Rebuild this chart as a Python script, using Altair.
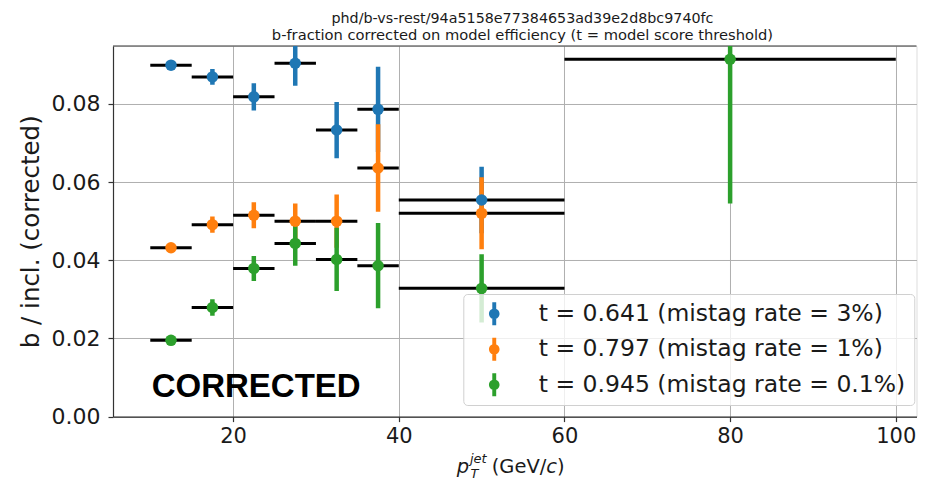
import altair as alt
import pandas as pd

# ---- data ----
centers = [12.5, 17.5, 22.5, 27.5, 32.5, 37.5, 50, 80]
bin_lo = [10, 15, 20, 25, 30, 35, 40, 60]
bin_hi = [15, 20, 25, 30, 35, 40, 60, 100]

labels = [
    "t = 0.641 (mistag rate = 3%)",
    "t = 0.797 (mistag rate = 1%)",
    "t = 0.945 (mistag rate = 0.1%)",
]
colors = ["#1f77b4", "#ff7f0e", "#2ca02c"]

blue_val = [0.0899, 0.0869, 0.0818, 0.0904, 0.0733, 0.0786, 0.0554, None]
blue_err = [0.0007, 0.0020, 0.0035, 0.0058, 0.0072, 0.0109, 0.0085, None]
orange_val = [0.0432, 0.0491, 0.0515, 0.0500, 0.0500, 0.0636, 0.0520, None]
orange_err = [0.0008, 0.0021, 0.0033, 0.0045, 0.0068, 0.0112, 0.0092, None]
green_val = [0.0195, 0.0279, 0.0379, 0.0443, 0.0402, 0.0386, 0.0328, 0.0914]
green_err = [0.0007, 0.0021, 0.0032, 0.0057, 0.0081, 0.0109, 0.0087, 0.0369]

title_line1 = "phd/b-vs-rest/94a5158e77384653ad39e2d8bc9740fc"
title_line2 = "b-fraction corrected on model efficiency (t = model score threshold)"
x_ticks = [20, 40, 60, 80, 100]
y_ticks = [0.0, 0.02, 0.04, 0.06, 0.08]

rows = []
for lab, vals, errs in zip(labels, [blue_val, orange_val, green_val],
                           [blue_err, orange_err, green_err]):
    for c, lo, hi, v, e in zip(centers, bin_lo, bin_hi, vals, errs):
        if v is None:
            continue
        rows.append(dict(series=lab, x=c, lo=lo, hi=hi, y=v,
                         ylo=v - e, yhi=v + e))
df = pd.DataFrame(rows)

xscale = alt.Scale(domain=[5.5, 102.5], nice=False, zero=False)
yscale = alt.Scale(domain=[0, 0.0948], nice=False, zero=False)
cscale = alt.Scale(domain=labels, range=colors)

axis_common = dict(
    gridColor="#b0b0b0", gridWidth=1, domainColor="#333333", domainWidth=1.2,
    tickColor="#333333", tickWidth=1.2, tickSize=5, labelColor="#1a1a1a",
)

xenc = alt.X("x:Q", scale=xscale, title=None,
             axis=alt.Axis(values=x_ticks, labelFont="DejaVu Sans",
                           labelFontSize=21, labelPadding=4, **axis_common))
yenc = alt.Y("y:Q", scale=yscale,
             axis=alt.Axis(values=y_ticks, format=".2f", labelFont="DejaVu Sans",
                           labelFontSize=22, labelPadding=8,
                           title="b / incl. (corrected)", titleFont="DejaVu Sans",
                           titleFontSize=24.5, titleFontWeight="normal",
                           titleColor="#1a1a1a", titleX=-82, titleY=185.3,
                           titleAngle=270, titleAlign="center",
                           titleBaseline="middle", **axis_common))

legend_symbol = ("M-0.17,-1L0.17,-1L0.17,1L-0.17,1Z "
                 "M0.46,0A0.46,0.46,0,1,1,-0.46,0A0.46,0.46,0,1,1,0.46,0Z")

legend = alt.Legend(
    title=None, orient="none", legendX=350.3, legendY=248,
    symbolType=legend_symbol, symbolSize=529, symbolStrokeWidth=0,
    symbolOffset=11.2, labelOffset=32.8, labelFont="DejaVu Sans",
    labelFontSize=23.5, labelColor="#1a1a1a", labelLimit=600,
    rowPadding=10.5, padding=8, fillColor="rgba(255,255,255,0.8)",
    strokeColor="#d0d0d0", cornerRadius=4, labelBaseline="middle",
)
color_enc = alt.Color("series:N", scale=cscale, legend=legend)

base = alt.Chart(df)

vbars = base.mark_rule(strokeWidth=4.5, clip=True).encode(
    x=alt.X("x:Q", scale=xscale),
    y=alt.Y("ylo:Q", scale=yscale),
    y2="yhi:Q",
    color=color_enc,
)

hbars = base.mark_rule(strokeWidth=3, color="black", clip=True).encode(
    x=alt.X("lo:Q", scale=xscale),
    x2="hi:Q",
    y=alt.Y("y:Q", scale=yscale),
)

points = base.mark_point(filled=True, size=132, opacity=1, shape="circle",
                         strokeWidth=0).encode(
    x=xenc,
    y=yenc,
    color=color_enc,
)

top_border = alt.Chart(pd.DataFrame({"k": [0]})).mark_rule(
    color="#333333", strokeWidth=1.2).encode(y=alt.value(0))


def txt(s, x, y, size, font="DejaVu Sans", style="normal",
        weight="normal", color="#1a1a1a"):
    return alt.Chart(pd.DataFrame({"t": [s]})).mark_text(
        align="left", baseline="alphabetic", font=font, fontSize=size,
        fontStyle=style, fontWeight=weight, color=color,
    ).encode(text="t:N", x=alt.value(x), y=alt.value(y))


xtitle = [
    txt("p", 343.7, 427, 19.5, style="italic"),
    txt("jet", 357, 417, 13, style="italic"),
    txt("T", 357.5, 432, 13, style="italic"),
    txt("(GeV/", 378.7, 427, 19.5),
    txt("c", 433.3, 427, 19.5, style="italic"),
    txt(")", 444, 427, 19.5),
]

corrected = txt("CORRECTED", 38.7, 351.3, 33, font="Liberation Sans",
                weight="bold", color="black")

chart = alt.layer(
    top_border, vbars, hbars, points, corrected, *xtitle
).properties(
    width=803.5,
    height=370.6,
    padding={"left": 105, "top": 38, "right": 2, "bottom": 68},
    autosize=alt.AutoSizeParams(type="none"),
    title=alt.TitleParams(
        text=title_line1, subtitle=title_line2,
        font="DejaVu Sans", fontSize=14.3, fontWeight="normal",
        color="#1a1a1a", subtitleFont="DejaVu Sans", subtitleFontSize=14.7,
        subtitleColor="#1a1a1a", subtitlePadding=1,
        anchor="middle", dx=7.7, offset=3,
    ),
).configure_view(strokeWidth=0).configure(background="white")

chart.save("out.html", embed_options={"renderer": "svg", "actions": False})
